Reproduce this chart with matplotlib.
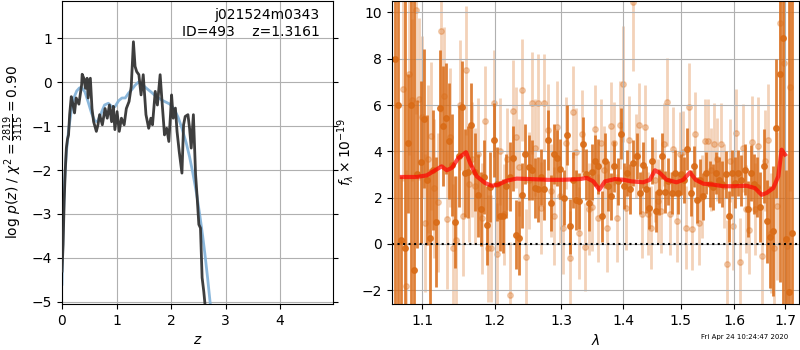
import numpy as np
import matplotlib
matplotlib.use('Agg')
import matplotlib.pyplot as plt
from matplotlib.ticker import NullLocator, FixedLocator, FixedFormatter

# ---- p(z) panel ----
z_smooth = [0.0, 0.02, 0.05, 0.08, 0.12, 0.17, 0.22, 0.27, 0.32, 0.36, 0.42, 0.48, 0.54, 0.6,
            0.65, 0.72, 0.78, 0.85, 0.91, 0.97, 1.04, 1.1, 1.16, 1.22, 1.28, 1.34, 1.4, 1.47,
            1.55, 1.63, 1.73, 1.85, 1.98, 2.06, 2.13, 2.2, 2.28, 2.34, 2.4, 2.47, 2.53, 2.58,
            2.62, 2.67, 2.72]
pz_smooth = [-4.6, -3.3, -2.2, -1.6, -1.1, -0.65, -0.35, -0.2, -0.13, -0.12, -0.22, -0.45,
             -0.7, -0.88, -0.9, -0.7, -0.52, -0.48, -0.55, -0.56, -0.42, -0.36, -0.36, -0.25,
             -0.17, -0.07, 0.0, -0.05, -0.14, -0.22, -0.33, -0.42, -0.5, -0.62, -0.8, -1.05,
             -1.39, -1.7, -2.07, -2.55, -3.05, -3.5, -3.9, -4.45, -5.05]

z_grid = [0.0, 0.02, 0.04, 0.06, 0.08, 0.1, 0.12, 0.14, 0.17, 0.2, 0.23, 0.26, 0.31, 0.36,
          0.37, 0.4, 0.43, 0.46, 0.48, 0.52, 0.55, 0.58, 0.63, 0.66, 0.69, 0.74, 0.79, 0.83,
          0.87, 0.91, 0.94, 0.97, 1.01, 1.05, 1.09, 1.14, 1.18, 1.23, 1.27, 1.31, 1.34, 1.37,
          1.41, 1.45, 1.49, 1.54, 1.59, 1.63, 1.66, 1.71, 1.75, 1.8, 1.83, 1.88, 1.92, 1.96,
          1.99, 2.01, 2.04, 2.08, 2.11, 2.15, 2.2, 2.23, 2.26, 2.31, 2.34, 2.37, 2.41, 2.45,
          2.48, 2.51, 2.54, 2.57, 2.6, 2.62]
logpz = [-4.3, -3.7, -2.7, -2.0, -1.5, -1.3, -1.2, -0.74, -0.33, -0.5, -0.7, -0.36, -0.5,
         -0.06, 0.18, 0.09, -0.14, 0.09, -0.36, 0.09, -0.6, -0.9, -1.12, -0.97, -0.74, -0.97,
         -0.6, -0.82, -0.52, -0.9, -0.55, -1.08, -0.67, -1.12, -0.82, -0.97, -0.6, -0.44, -0.1,
         0.92, 0.36, 0.24, 0.17, -0.29, 0.17, -0.74, -1.05, -0.82, -0.97, -0.21, -0.52, 0.17,
         -0.36, -1.2, -1.05, -1.35, -0.74, -0.29, -0.82, -0.59, -1.12, -1.58, -2.07, -0.97,
         -0.78, -0.74, -1.05, -1.5, -0.74, -2.1, -2.64, -3.24, -3.32, -4.45, -4.76, -5.02]

# ---- spectrum panel ----
# bright (grism 1) points
flux_a = [8.0, 6.0, 0.15, -0.2, 4.35, 6.0, -1.15, 3.0, 3.55, 5.4, 2.77, 0.25, 3.2, 0.95, 5.87,
          5.1, 5.43, 4.45, 3.4, 0.95, 3.8, 5.9, 3.07, 3.1, 5.14, 3.1, 2.1, 1.5, 2.9, 0.8, 2.45, 4.5,
          2.6, 1.2, 1.2, 2.5, 2.9, 3.7, 0.4, 0.25, 2.1, 3.9, 3.3, 3.2, 2.4, 2.35, 2.9, 2.35,
          4.5, 1.77, 3.9, 3.7, 3.25, 2.0, 4.7, 0.75, 2.75, 1.9, 1.85, 4.3, 3.0, 1.77, 3.1, 3.6,
          3.35, 1.2, 3.6, 2.5, 2.05, 3.35, 2.7, 4.75, 2.5, 3.07, 2.37, 3.5, 3.8, 2.2, 3.4, 2.35,
          1.55, 3.6, 1.4, 2.25, 3.8, 2.25, 2.7, 2.2, 3.07, 2.2, 3.0, 2.75, 4.1, 2.2, 3.35, 1.9,
          2.75, 2.05, 3.07, 2.6, 2.45, 3.07, 2.75, 2.6, 3.0, 1.2, 3.07, 2.65, 3.07, 2.75, 3.2,
          1.5, 3.07, 2.6, 2.45, 1.6, 3.35, 0.97, 0.3, 0.55, 5.0, 7.35, 8.9, 0.2, -2.1, 0.45]
err_a = [14, 15, 2.8, 14, 3.0, 12, 14, 3.2, 3.5, 3.0, 2.8, 3.0, 2.6, 2.8, 2.5, 2.6, 2.4, 2.5,
         2.2, 2.0, 2.2, 2.0, 1.9, 2.0, 1.8, 1.7, 1.8, 1.6, 1.6, 1.7, 1.5, 1.6,
         1.6, 1.5, 1.6, 1.4, 1.5, 1.4, 1.5, 1.6, 1.4, 1.3, 1.4, 1.3, 1.3, 1.4, 1.2, 1.3, 1.3,
         1.2, 1.3, 1.2, 1.3, 1.2, 1.3, 1.2, 1.2, 1.3, 1.2, 1.2, 1.1, 1.2, 1.2, 1.1,
         1.2, 1.1, 1.2, 1.1, 1.0, 1.1, 1.0, 1.1, 1.0, 1.0, 1.1, 1.0, 1.0, 0.9, 1.0, 1.0, 0.9,
         1.0, 0.9, 1.0, 1.0, 0.9, 1.0, 0.9, 1.0, 0.9, 0.9, 1.0, 0.9, 1.0, 0.9, 1.0,
         0.9, 1.0, 0.9, 1.0, 1.0, 0.9, 1.0, 1.0, 1.0, 1.1, 1.0, 1.1, 1.0, 1.1, 1.1, 1.2, 1.2,
         1.3, 1.3, 1.5, 1.6, 1.8, 2.2, 2.8, 3.0, 9, 12, 3.0, 15, 12]

# faint (grism 2) points
flux_b = [6.7, -1.8, 7.35, 6.2, 10.1, 6.25, 5.5, 0.9, 3.65, 4.65, 2.4, 1.8, 9.2, 6.37, 1.07,
          4.6, -0.2, 0.15, 6.0, 1.2, 7.5, 2.6, 3.65, 2.5, 3.9, 1.1, 5.3, -0.2,
          -0.2, 6.07, -0.43, 4.0, 1.27, 3.65, -2.2, 5.75, 4.6, 3.3, 6.65, -0.58, 2.75, 6.1, 4.15,
          6.1, 1.55, 6.1, 4.9, 2.3, 1.2, 5.05, 2.05, 0.7, 4.35, -0.6, 5.7, 3.95, 0.47, 4.75,
          -0.15, 1.5, 1.6, 4.95, 1.1, 4.35,
          3.2, 0.7, 5.1, 4.35, 1.1, 5.15, 6.9, 1.55, 4.5, 10.45, 3.8, 5.15, 1.27, 5.05, 1.3, 0.7,
          2.75, 1.85, 1.4, 4.3, 6.15, 1.3, 4.1, 1.0, 3.9, 3.95, 0.7, 5.9, 0.65, 4.75, 0.9, 2.05,
          4.45,
          4.45, 3.2, 4.3, 3.65, 4.3, 2.5, -0.88, 3.6, 0.75, 4.8, -0.8, 4.15, 1.5, 0.6, 4.4, 1.5,
          4.25, -0.52, 3.6, 4.5, 0.47, -0.2, 1.65, 9.55, 7.83, -0.1, 6.8]
err_b = [4, 5, 3.5, 3.5, 4.5, 3.5, 3.5, 3.0, 3.2, 3.2, 3, 3, 3.5, 3, 3, 3, 2.8, 2.8, 2.8, 2.6,
         2.8, 2.5, 2.5, 2.5, 2.4, 2.4, 2.4, 2.3,
         2.3, 2.3, 2.2, 2.3, 2.2, 2.2, 2.3, 2.2, 2.2, 2.1, 2.2, 2.1, 2.1, 2.2, 2.1, 2.1, 2.0,
         2.1, 2.0, 2.0, 2.1, 2.0, 2.0, 2.0, 2.0, 2.0, 2.0, 1.9, 2.0, 1.9, 1.9, 2.0, 1.9, 1.9,
         1.9, 1.9,
         1.9, 1.9, 1.9, 1.8, 1.9, 1.9, 2.5, 1.8, 1.9, 3.0, 1.8, 1.8, 1.9, 1.8, 1.8, 1.8, 1.8,
         1.8, 1.8, 1.8, 1.9, 1.8, 1.8, 1.8, 1.8, 1.8, 1.8, 1.9, 1.8, 1.8, 1.8, 1.8, 1.8,
         1.8, 1.8, 1.8, 1.8, 1.8, 1.8, 1.9, 1.8, 1.9, 1.9, 1.9, 1.9, 1.9, 1.9, 2.0, 2.0, 2.1,
         2.2, 2.2, 2.4, 2.6, 2.8, 3.2, 3.5, 4.0, 4.0, 4.5]

# best-fit model
wave_model = [1.0735, 1.093, 1.1062, 1.1173, 1.1262, 1.133, 1.1398, 1.149, 1.1596, 1.1652,
              1.1745, 1.1863, 1.1958, 1.2054, 1.2175, 1.2322, 1.2521, 1.2774, 1.3031, 1.3294,
              1.3401, 1.3509, 1.3606, 1.3699, 1.3864, 1.4003, 1.4144, 1.4343, 1.4458, 1.4545,
              1.4633, 1.475, 1.4928, 1.5048, 1.5169, 1.5272, 1.5413, 1.5599, 1.5787, 1.5978,
              1.6236, 1.6399, 1.6531, 1.663, 1.6764, 1.6865, 1.6933, 1.7]
flux_model = [2.89, 2.89, 2.96, 3.18, 3.35, 3.18, 3.28, 3.71, 3.96, 3.5, 2.92, 2.63, 2.51,
              2.56, 2.73, 2.82, 2.8, 2.77, 2.77, 2.8, 2.85, 2.7, 2.34, 2.7, 2.8, 2.77, 2.7,
              2.66, 2.77, 3.18, 3.06, 2.77, 2.66, 2.77, 3.09, 2.77, 2.6, 2.56, 2.49, 2.49, 2.51,
              2.41, 2.12, 2.2, 2.41, 2.92, 4.07, 3.86]

wave_a = np.geomspace(1.065, 1.715, len(flux_a))
wave_b = np.geomspace(1.075, 1.710, len(flux_b))

fig = plt.figure(figsize=(8, 3.5), dpi=100)

ax = fig.add_axes([0.0775, 0.1314, 0.3387, 0.866])
ax.plot(z_smooth, pz_smooth, color='#7fb0d8', lw=2, alpha=0.9, zorder=2)
ax.plot(z_grid, logpz, color='#333333', lw=2, alpha=0.95, zorder=3)
ax.set_xlim(0, 4.97)
ax.set_ylim(-5.05, 1.85)
ax.set_xticks([0, 1, 2, 3, 4])
ax.set_yticks([-5, -4, -3, -2, -1, 0, 1])
ax.tick_params(right=True)
ax.grid(True)
ax.set_xlabel('$z$')
ax.set_ylabel(r'log $p(z)$ / $\chi^2=\frac{2819}{3115}=0.90$')
ax.text(0.95, 0.975, 'j021524m0343\nID=493    z=1.3161', transform=ax.transAxes,
        ha='right', va='top', fontsize=10)

ax2 = fig.add_axes([0.49, 0.1314, 0.5088, 0.866])
ax2.errorbar(wave_b, flux_b, err_b, color='#d96b16', alpha=0.3, marker='o', ms=4,
             linestyle='none', elinewidth=2, zorder=1)
ax2.errorbar(wave_a, flux_a, err_a, color='#d96b16', alpha=0.85, marker='o', ms=4,
             linestyle='none', elinewidth=2, zorder=2)
ax2.plot(wave_model, flux_model, color='red', lw=3, alpha=0.7, zorder=4)
ax2.axhline(0, color='k', linestyle=':', lw=1.5, zorder=5)
ax2.set_xscale('log')
ax2.set_xlim(1.061, 1.729)
ax2.set_ylim(-2.6, 10.5)
xt = [1.1, 1.2, 1.3, 1.4, 1.5, 1.6, 1.7]
ax2.xaxis.set_major_locator(FixedLocator(xt))
ax2.xaxis.set_major_formatter(FixedFormatter(['%.1f' % v for v in xt]))
ax2.xaxis.set_minor_locator(NullLocator())
ax2.set_yticks([-2, 0, 2, 4, 6, 8, 10])
ax2.grid(True)
ax2.set_xlabel(r'$\lambda$')
ax2.set_ylabel(r'$f_\lambda\times10^{-19}$')

fig.text(0.985, 0.028, 'Fri Apr 24 10:24:47 2020', ha='right', va='bottom', fontsize=5)

fig.savefig('out.png', dpi=100)
